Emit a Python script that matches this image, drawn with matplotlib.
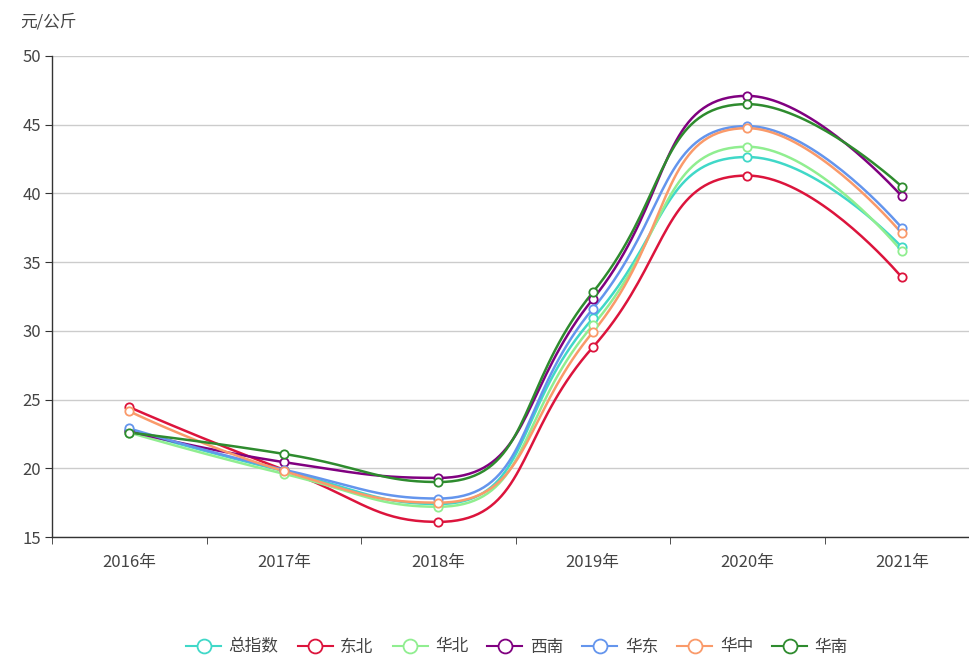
import numpy as np
import matplotlib.pyplot as plt
from matplotlib.lines import Line2D

plt.rcParams["font.family"] = ["Noto Sans CJK SC", "DejaVu Sans"]

years = ["2016年", "2017年", "2018年", "2019年", "2020年", "2021年"]
series_names = ["总指数", "东北", "华北", "西南", "华东", "华中", "华南"]

total_index = [22.8, 19.8, 17.4, 30.9, 42.65, 36.1]
northeast = [24.45, 19.9, 16.1, 28.8, 41.3, 33.9]
north = [22.6, 19.6, 17.2, 30.4, 43.4, 35.8]
southwest = [22.7, 20.45, 19.3, 32.3, 47.1, 39.8]
east = [22.9, 19.9, 17.8, 31.6, 44.9, 37.5]
central = [24.15, 19.8, 17.5, 29.9, 44.75, 37.1]
south = [22.6, 21.05, 19.0, 32.8, 46.5, 40.5]

colors = ["#40d8c8", "#dc143c", "#90ee90", "#800080", "#6495ed", "#fa9a6a", "#2e8b2e"]
all_series = [total_index, northeast, north, southwest, east, central, south]

# echarts-style smooth curve (smooth=0.5) with clamped control points
X_SCALE = 155.0
Y_SCALE = 13.74


def clamp(v, a, b):
    return min(max(v, min(a, b)), max(a, b))


def smooth_curve(xs, ys, smooth=0.5, steps=40):
    px = np.array(xs, dtype=float) * X_SCALE
    py = np.array(ys, dtype=float) * Y_SCALE
    n = len(px)
    cp_in = [None] * n
    cp_out = [None] * n
    for i in range(n):
        x, y = px[i], py[i]
        if i == 0 or i == n - 1:
            cp_in[i] = (x, y)
            cp_out[i] = (x, y)
            continue
        prev_x, prev_y = px[i - 1], py[i - 1]
        next_x, next_y = px[i + 1], py[i + 1]
        vx = (next_x - prev_x) * smooth
        vy = (next_y - prev_y) * smooth
        len_prev = np.hypot(x - prev_x, y - prev_y)
        len_next = np.hypot(next_x - x, next_y - y)
        ratio = len_next / (len_next + len_prev)
        nx0 = clamp(x + vx * ratio, x, next_x)
        ny0 = clamp(y + vy * ratio, y, next_y)
        vx, vy = nx0 - x, ny0 - y
        cx0 = clamp(x - vx * len_prev / len_next, x, prev_x)
        cy0 = clamp(y - vy * len_prev / len_next, y, prev_y)
        vx, vy = x - cx0, y - cy0
        nx0 = x + vx * len_next / len_prev
        ny0 = y + vy * len_next / len_prev
        cp_in[i] = (cx0, cy0)
        cp_out[i] = (nx0, ny0)
    out_x, out_y = [], []
    t = np.linspace(0, 1, steps)
    for i in range(n - 1):
        p0 = np.array([px[i], py[i]])
        p1 = np.array(cp_out[i])
        p2 = np.array(cp_in[i + 1])
        p3 = np.array([px[i + 1], py[i + 1]])
        seg = ((1 - t) ** 3)[:, None] * p0 + (3 * (1 - t) ** 2 * t)[:, None] * p1 \
            + (3 * (1 - t) * t ** 2)[:, None] * p2 + (t ** 3)[:, None] * p3
        out_x.extend(seg[:, 0])
        out_y.extend(seg[:, 1])
    return np.array(out_x) / X_SCALE, np.array(out_y) / Y_SCALE


fig = plt.figure(figsize=(9.69, 6.58), dpi=100)
ax = fig.add_axes([52 / 969, 121 / 658, 927 / 969, 481 / 658])

x = np.arange(len(years))
handles = []
for name, vals, c in zip(series_names, all_series, colors):
    sx, sy = smooth_curve(x, vals)
    ax.plot(sx, sy, color=c, lw=1.8, zorder=3)
    ax.plot(x, vals, ls="none", marker="o", ms=6, mfc="white", mec=c, mew=1.3, zorder=4)
    handles.append(Line2D([0], [0], color=c, lw=1.5, marker="o", ms=10, mfc="white", mec=c, mew=1.3))

ax.set_xlim(-0.5, 5.5)
ax.set_ylim(15, 50)
ax.set_yticks(np.arange(15, 51, 5))
ax.set_xticks(x)
ax.set_xticklabels(years)
ax.set_xticks(np.arange(-0.5, 5.6, 1), minor=True)
ax.tick_params(axis="x", which="major", length=0, pad=12, labelsize=12, labelcolor="#444444")
ax.tick_params(axis="x", which="minor", length=5, color="#333333")
ax.tick_params(axis="y", length=5, color="#333333", labelsize=12, labelcolor="#444444", pad=3)
ax.grid(axis="y", color="#cccccc", lw=1)
ax.set_axisbelow(True)
for s in ["top", "right"]:
    ax.spines[s].set_visible(False)
for s in ["left", "bottom"]:
    ax.spines[s].set_color("#333333")
    ax.spines[s].set_linewidth(1)

fig.text(20 / 969, 1 - 22 / 658, "元/公斤", fontsize=12, color="#444444", va="center")

fig.legend(handles, series_names, loc="center", bbox_to_anchor=(517 / 969, 11 / 658),
           ncol=7, frameon=False, fontsize=12, handlelength=2.1, handletextpad=0.45,
           columnspacing=1.15, labelcolor="#444444")

fig.savefig("out.png", dpi=100)
